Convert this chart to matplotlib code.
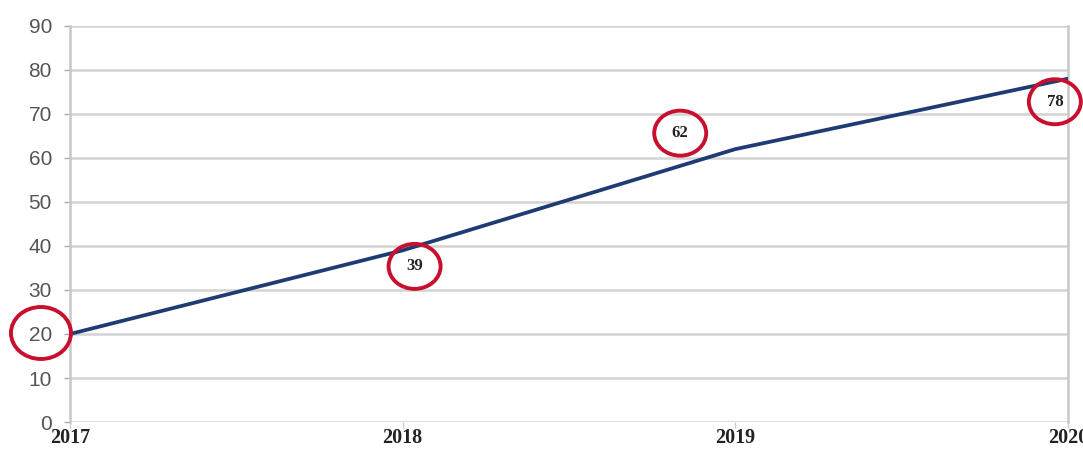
import matplotlib
matplotlib.use("Agg")
import matplotlib.pyplot as plt
from matplotlib.patches import Ellipse
from matplotlib.transforms import IdentityTransform

# yearly values
years = [2017, 2018, 2019, 2020]
values = [20, 39, 62, 78]
year_labels = ["2017", "2018", "2019", "2020"]
y_ticks = [0, 10, 20, 30, 40, 50, 60, 70, 80, 90]

# which points get a circled value label, and where the label sits (pixels from the point)
label_idx = [1, 2, 3]
label_offsets = [(12, -16), (-55, 16), (-13, -23)]

grid_col = "#d3d3d3"
line_col = "#1f3b73"
ring_col = "#c8102e"

fig = plt.figure(figsize=(10.83, 4.55), dpi=100)
ax = fig.add_axes([0.0646, 0.0725, 0.9214, 0.8705])

ax.plot(years, values, color=line_col, linewidth=2.7, solid_capstyle="round", zorder=3)

ax.set_xlim(years[0], years[-1])
ax.set_ylim(y_ticks[0], y_ticks[-1])
ax.set_yticks(y_ticks)
ax.set_xticks(years)
ax.set_xticklabels(year_labels, fontfamily="Liberation Serif", fontweight="bold",
                   fontsize=14.5, color="#222222")
for lbl in ax.get_yticklabels():
    lbl.set_fontfamily("Liberation Sans")
    lbl.set_fontsize(15)
    lbl.set_color("#555555")

ax.yaxis.grid(True, color=grid_col, linewidth=1.8)
ax.set_axisbelow(True)
ax.tick_params(axis="y", length=4, width=1, color="#aaaaaa", pad=9)
ax.tick_params(axis="x", length=4, width=1, color="#cccccc", pad=0)
for side in ["left", "right"]:
    ax.spines[side].set_color("#c8c8c8")
    ax.spines[side].set_linewidth(1.8)
for side in ["top", "bottom"]:
    ax.spines[side].set_visible(False)

# circled value labels (rings sized in pixels around the label position)
for i, (dx, dy) in zip(label_idx, label_offsets):
    ax.annotate(str(values[i]), (years[i], values[i]), xytext=(dx, dy),
                textcoords="offset pixels", ha="center", va="center",
                fontfamily="Liberation Serif", fontweight="bold", fontsize=12,
                color="#222222", zorder=5, annotation_clip=False)
    px, py = ax.transData.transform((years[i], values[i]))
    fig.add_artist(Ellipse((px + dx, py + dy), 52, 45, fill=False, ec=ring_col,
                           lw=2.8, transform=IdentityTransform(), zorder=5))

# ring around the first value on the y axis
px, py = ax.transData.transform((years[0], values[0]))
fig.add_artist(Ellipse((px - 29, py + 1), 60, 52, fill=False, ec=ring_col,
                       lw=2.8, transform=IdentityTransform(), zorder=5))

fig.savefig("out.png", dpi=100)
